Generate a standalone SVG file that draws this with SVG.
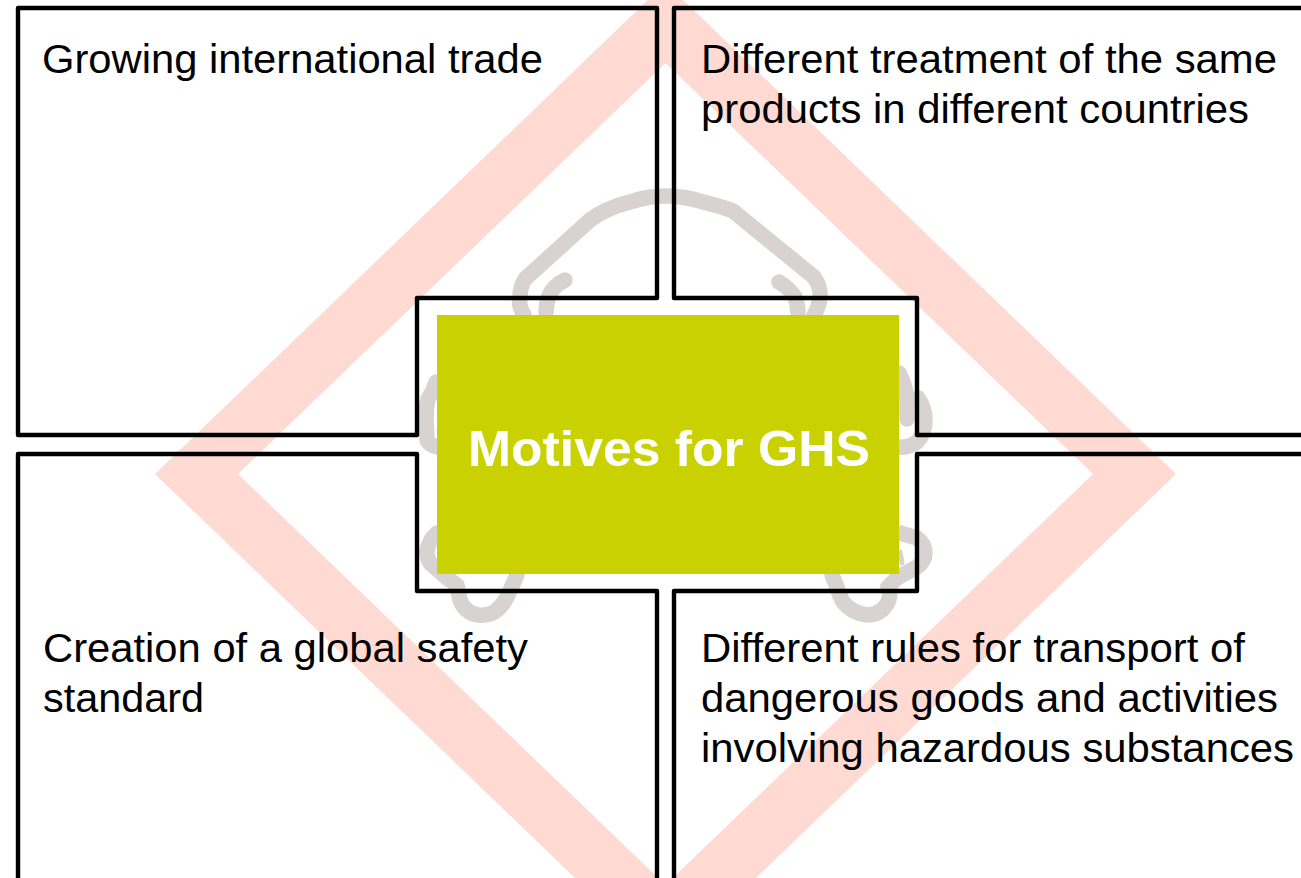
<svg xmlns="http://www.w3.org/2000/svg" width="1301" height="878" viewBox="0 0 1301 878">
<style>
.frame{fill:none;stroke:#000;stroke-width:4.400;stroke-linejoin:round}
.head{fill:none;stroke:#D8D3D0;stroke-width:15.500;stroke-linejoin:round;stroke-linecap:round}
.t{font-family:"Liberation Sans",Arial,sans-serif;font-size:40px;fill:#000}
.title{font-family:"Liberation Sans",Arial,sans-serif;font-size:50px;font-weight:bold;fill:#fff}
</style>
<rect width="1301" height="878" fill="#fff"/>
<g id="hazard-pictogram">
<path fill="#FFDAD3" fill-rule="evenodd" d="M665.500 -17L1176 474L665.500 965L155 474ZM665.500 63L238 474L665.500 885L1093 474Z"/>
<g class="head">
<path d="M524 315Q518 305 520 297Q520 287 525 279L590 220Q606 208 630 202Q648 196 665 196Q685 196 703 202Q720 206 733 211L814 277Q821 287 820 297Q819 307 814 315"/>
<path d="M565 280Q553 286 549 296Q546 304 546 313"/>
<path d="M779 282Q790 289 795 297Q798 305 798 313"/>
<path d="M436 382Q433 392 428 399Q426 408 426 417L427 440Q430 446 438 447"/>
<path d="M899 373Q906 386 907 400L907 419"/>
<path d="M918 398Q925 408 925 420Q925 434 917 442Q908 448 900 447"/>
<path d="M437 533Q428 541 427 552Q427 558 430 563L447 578L457 585L460 600Q465 613 478 615Q490 616 497 610Q503 605 507 597L517 575"/>
<path d="M900 533L917 538Q925 544 925 553Q925 561 917 567L897 578L888 587Q892 595 887 604Q880 615 867 615Q852 613 843 602Q839 595 837 587L832 575"/>
<path d="M900 552L902 563" style="stroke-width:5"/>
</g>
</g>
<g id="connectors"></g>
<g id="node-trade">
<path class="frame" d="M18 8H657V298H417V435H18Z"/>
<text class="t" x="42" y="72.500" textLength="501" lengthAdjust="spacingAndGlyphs">Growing international trade</text>
</g>
<g id="node-treatment">
<path class="frame" d="M1310 8H674V298H917V435H1310"/>
<text class="t" x="701" y="72.500" textLength="576" lengthAdjust="spacingAndGlyphs">Different treatment of the same</text>
<text class="t" x="701" y="122.500" textLength="548" lengthAdjust="spacingAndGlyphs">products in different countries</text>
</g>
<g id="node-safety">
<path class="frame" d="M18 890V454H417V591H657V890"/>
<text class="t" x="43" y="661.500" textLength="485" lengthAdjust="spacingAndGlyphs">Creation of a global safety</text>
<text class="t" x="43" y="711.500" textLength="161" lengthAdjust="spacingAndGlyphs">standard</text>
</g>
<g id="node-transport">
<path class="frame" d="M1310 454H917V591H674V890"/>
<text class="t" x="701" y="661.500" textLength="544" lengthAdjust="spacingAndGlyphs">Different rules for transport of</text>
<text class="t" x="701" y="711.500" textLength="577" lengthAdjust="spacingAndGlyphs">dangerous goods and activities</text>
<text class="t" x="701" y="761.500" textLength="593" lengthAdjust="spacingAndGlyphs">involving hazardous substances</text>
</g>
<g id="node-center">
<rect x="437" y="315" width="462" height="259" fill="#C9D200"/>
<text class="title" x="468" y="466" textLength="402" lengthAdjust="spacingAndGlyphs">Motives for GHS</text>
</g>
</svg>
